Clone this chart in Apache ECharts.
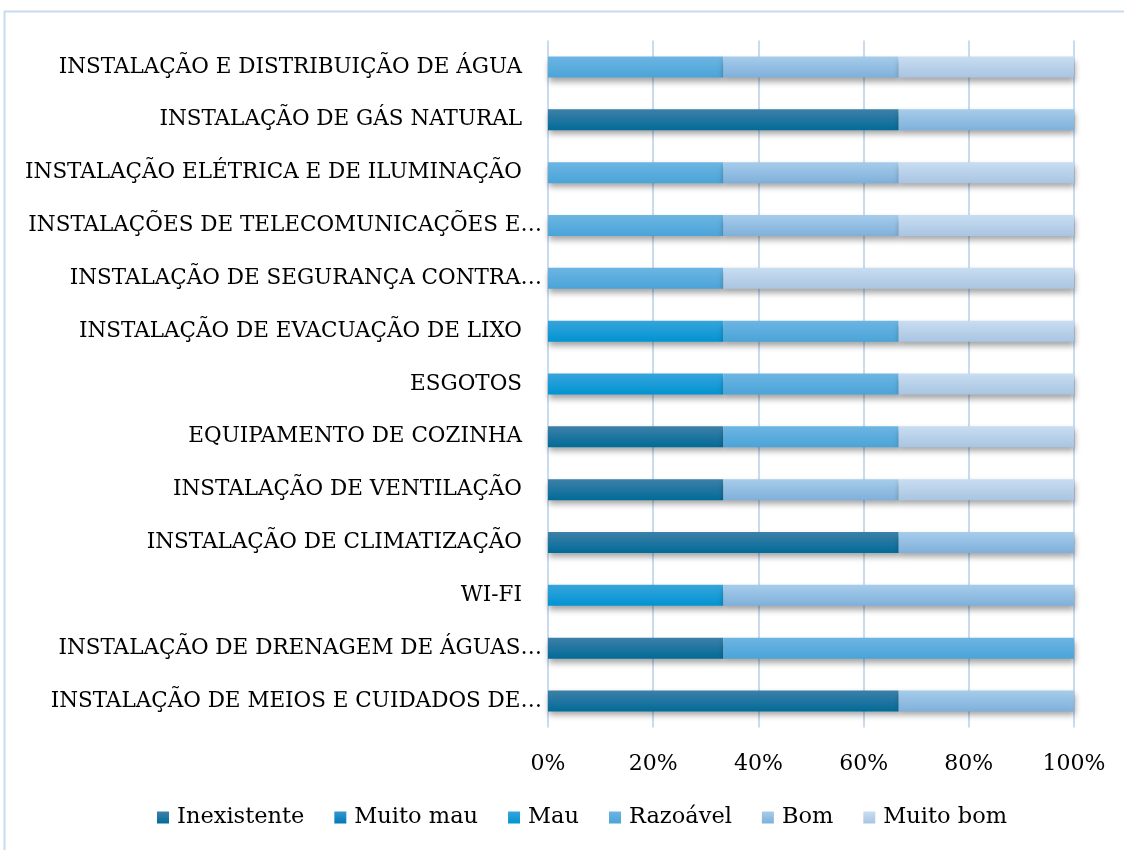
<!DOCTYPE html>
<html>
<head>
  <meta charset="utf-8">
  <title>Instalações</title>
  <script src="https://cdn.jsdelivr.net/npm/echarts/dist/echarts.min.js"></script>
  <style>
    html, body { margin: 0; padding: 0; background: #fff; }
    #chart-container { width: 1124px; height: 850px; }
  </style>
</head>
<body>
<div id="chart-container"></div>
<script>
  // categorias (de cima para baixo)
  var categories = [
    'INSTALAÇÃO E DISTRIBUIÇÃO DE ÁGUA',
    'INSTALAÇÃO DE GÁS NATURAL',
    'INSTALAÇÃO ELÉTRICA E DE ILUMINAÇÃO',
    'INSTALAÇÕES DE TELECOMUNICAÇÕES E…',
    'INSTALAÇÃO DE SEGURANÇA CONTRA…',
    'INSTALAÇÃO DE EVACUAÇÃO DE LIXO',
    'ESGOTOS',
    'EQUIPAMENTO DE COZINHA',
    'INSTALAÇÃO DE VENTILAÇÃO',
    'INSTALAÇÃO DE CLIMATIZAÇÃO',
    'WI-FI',
    'INSTALAÇÃO DE DRENAGEM DE ÁGUAS…',
    'INSTALAÇÃO DE MEIOS E CUIDADOS DE…'
  ];

  var inexistente = [0, 66.67, 0, 0, 0, 0, 0, 33.33, 33.33, 66.67, 0, 33.33, 66.67];
  var muitoMau    = [0, 0, 0, 0, 0, 0, 0, 0, 0, 0, 0, 0, 0];
  var mau         = [0, 0, 0, 0, 0, 33.33, 33.33, 0, 0, 0, 33.33, 0, 0];
  var razoavel    = [33.33, 0, 33.33, 33.33, 33.33, 33.33, 33.33, 33.33, 0, 0, 0, 66.67, 0];
  var bom         = [33.33, 33.33, 33.33, 33.33, 0, 0, 0, 0, 33.33, 33.33, 66.67, 0, 33.33];
  var muitoBom    = [33.33, 0, 33.33, 33.33, 66.67, 33.33, 33.33, 33.33, 33.33, 0, 0, 0, 0];

  var xTicks = ['0%', '20%', '40%', '60%', '80%', '100%'];

  var seriesNames = ['Inexistente', 'Muito mau', 'Mau', 'Razoável', 'Bom', 'Muito bom'];
  var seriesData = [inexistente, muitoMau, mau, razoavel, bom, muitoBom];
  // cores: topo / base do gradiente
  var colorPairs = [
    ['#3d80a8', '#016b98'],
    ['#3597cd', '#0079b7'],
    ['#37a4dc', '#0094d2'],
    ['#6cb5e3', '#4aa4d8'],
    ['#a6cceb', '#7fb0da'],
    ['#c8ddf1', '#a9c5e2']
  ];

  var font = "'DejaVu Serif', 'Liberation Serif', serif";

  var myChart = echarts.init(document.getElementById('chart-container'));

  var series = seriesNames.map(function (name, i) {
    return {
      name: name,
      type: 'bar',
      stack: 'total',
      barWidth: 21,
      data: seriesData[i],
      itemStyle: {
        color: new echarts.graphic.LinearGradient(0, 0, 0, 1, [
          { offset: 0, color: colorPairs[i][0] },
          { offset: 1, color: colorPairs[i][1] }
        ]),
        shadowColor: 'rgba(0,0,0,0.35)',
        shadowBlur: 6,
        shadowOffsetY: 4,
        shadowOffsetX: 1
      }
    };
  });

  myChart.setOption({
    animation: false,
    graphic: [{
      type: 'rect',
      shape: { x: 4.5, y: 11.5, width: 1200, height: 900 },
      style: { fill: 'none', stroke: '#c8dbef', lineWidth: 2 },
      silent: true
    }],
    grid: { left: 548, right: 50, top: 40.6, bottom: 122.6 },
    legend: {
      bottom: 16,
      left: 152,
      itemWidth: 12,
      itemHeight: 12,
      itemGap: 30,
      icon: 'rect',
      textStyle: { fontFamily: font, fontSize: 22.5, color: '#000', padding: [0, 0, 0, 3] },
      data: seriesNames
    },
    xAxis: {
      type: 'value',
      min: 0,
      max: 100,
      interval: 20,
      axisLine: { show: false },
      axisTick: { show: false },
      splitLine: { lineStyle: { color: '#c8dbef', width: 2 } },
      axisLabel: {
        margin: 26,
        fontFamily: font,
        fontSize: 22,
        color: '#000',
        formatter: function (v) { return xTicks[Math.round(v / 20)]; }
      }
    },
    yAxis: {
      type: 'category',
      inverse: true,
      data: categories,
      axisLine: { show: false },
      axisTick: { show: false },
      axisLabel: {
        margin: 6,
        fontFamily: font,
        fontSize: 21.5,
        color: '#000',
        formatter: function (v) {
          if (v.charAt(v.length - 1) === '…') return v;
          return '{n|' + v + '}';
        },
        rich: {
          n: { fontFamily: font, fontSize: 21.5, color: '#000', padding: [0, 20, 0, 0] }
        }
      }
    },
    series: series
  });
</script>
</body>
</html>
